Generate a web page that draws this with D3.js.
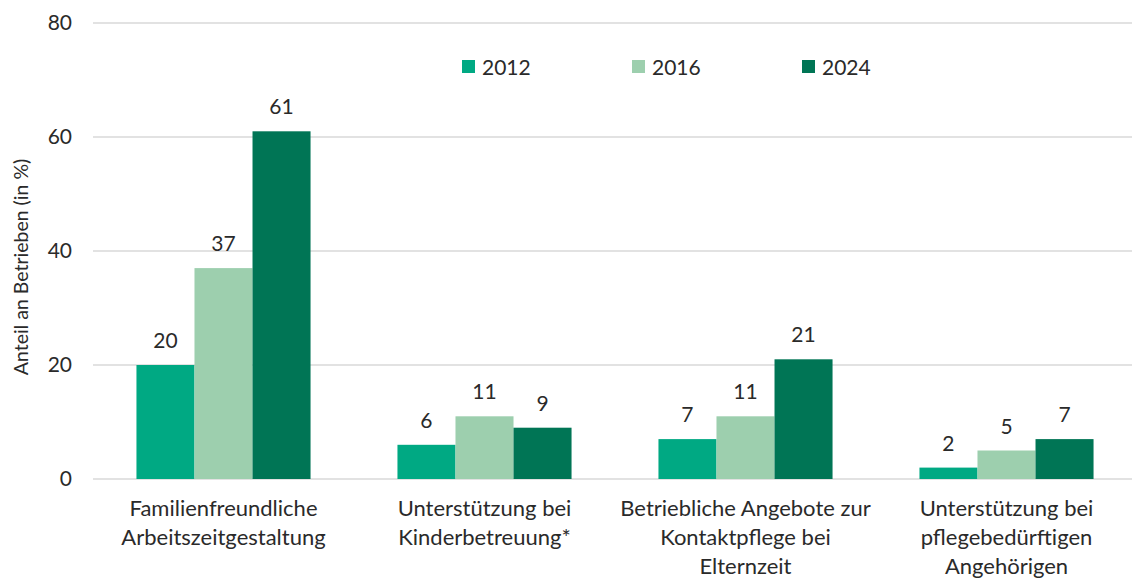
<!DOCTYPE html>
<html>
<head>
<meta charset="utf-8">
<script src="https://cdn.jsdelivr.net/npm/d3@7"></script>
<style>
  body { margin: 0; background: #fff; }
  svg { display: block; font-family: Lato, "Open Sans", sans-serif; }
</style>
</head>
<body>
<svg id="chart" width="1132" height="580"></svg>
<script>
// Angebote zur Vereinbarkeit – Anteil an Betrieben in %
const categories = [
  ["Familienfreundliche", "Arbeitszeitgestaltung"],
  ["Unterstützung bei", "Kinderbetreuung*"],
  ["Betriebliche Angebote zur", "Kontaktpflege bei", "Elternzeit"],
  ["Unterstützung bei", "pflegebedürftigen", "Angehörigen"]
];
const years = ["2012", "2016", "2024"];
const values2012 = [20, 6, 7, 2];
const values2016 = [37, 11, 11, 5];
const values2024 = [61, 9, 21, 7];
const yTicks = [0, 20, 40, 60, 80];
const colors = ["#00a983", "#9dcfae", "#007555"];
const yTitle = "Anteil an Betrieben (in %)";

const series = [values2012, values2016, values2024];
const svg = d3.select("#chart");
const plotLeft = 93, plotRight = 1137, plotTop = 23, plotBottom = 479;
const ink = "#2a2a2a";

const x0 = d3.scaleBand().domain(d3.range(categories.length)).range([plotLeft, plotRight]).paddingInner(0.333).paddingOuter(0.1665);
const x1 = d3.scaleBand().domain(years).range([0, x0.bandwidth()]);
const y = d3.scaleLinear().domain([0, 80]).range([plotBottom, plotTop]);

// gridlines
svg.append("g").selectAll("line").data(yTicks).join("line")
  .attr("x1", plotLeft).attr("x2", 1132)
  .attr("y1", d => y(d)).attr("y2", d => y(d))
  .attr("stroke", "#d9d9d9").attr("stroke-width", 1.3);

// y axis labels
const yAxis = svg.append("g").attr("transform", `translate(${plotLeft - 21},0)`)
  .call(d3.axisLeft(y).tickValues(yTicks).tickSize(0).tickPadding(0));
yAxis.select(".domain").remove();
yAxis.selectAll("text").attr("font-size", 21).attr("fill", ink).attr("font-family", "Lato, sans-serif");

svg.append("text")
  .attr("transform", `translate(28,267) rotate(-90)`)
  .attr("text-anchor", "middle").attr("font-size", 19.5).attr("fill", ink)
  .text(yTitle);

// bars
const groups = svg.append("g").selectAll("g").data(categories).join("g")
  .attr("transform", (d, i) => `translate(${x0(i)},0)`);
groups.each(function (c, i) {
  const g = d3.select(this);
  years.forEach((yr, s) => {
    const v = series[s][i];
    g.append("rect")
      .attr("x", x1(yr)).attr("width", x1.bandwidth())
      .attr("y", y(v)).attr("height", y(0) - y(v))
      .attr("fill", colors[s]);
    g.append("text")
      .attr("x", x1(yr) + x1.bandwidth() / 2).attr("y", y(v) - 17)
      .attr("text-anchor", "middle").attr("font-size", 21).attr("fill", ink)
      .text(v);
  });
  const t = g.append("text").attr("text-anchor", "middle").attr("font-size", 22).attr("fill", ink);
  c.forEach((line, k) => {
    t.append("tspan").attr("x", x0.bandwidth() / 2).attr("y", plotBottom + 37 + k * 29).text(line);
  });
});

// legend
const legendX = [462, 632, 802];
const legend = svg.append("g").selectAll("g").data(years).join("g")
  .attr("transform", (d, i) => `translate(${legendX[i]},60)`);
legend.append("rect").attr("width", 13).attr("height", 13).attr("fill", (d, i) => colors[i]);
legend.append("text").attr("x", 20).attr("y", 14.5).attr("font-size", 21).attr("fill", ink).text(d => d);
</script>
</body>
</html>
